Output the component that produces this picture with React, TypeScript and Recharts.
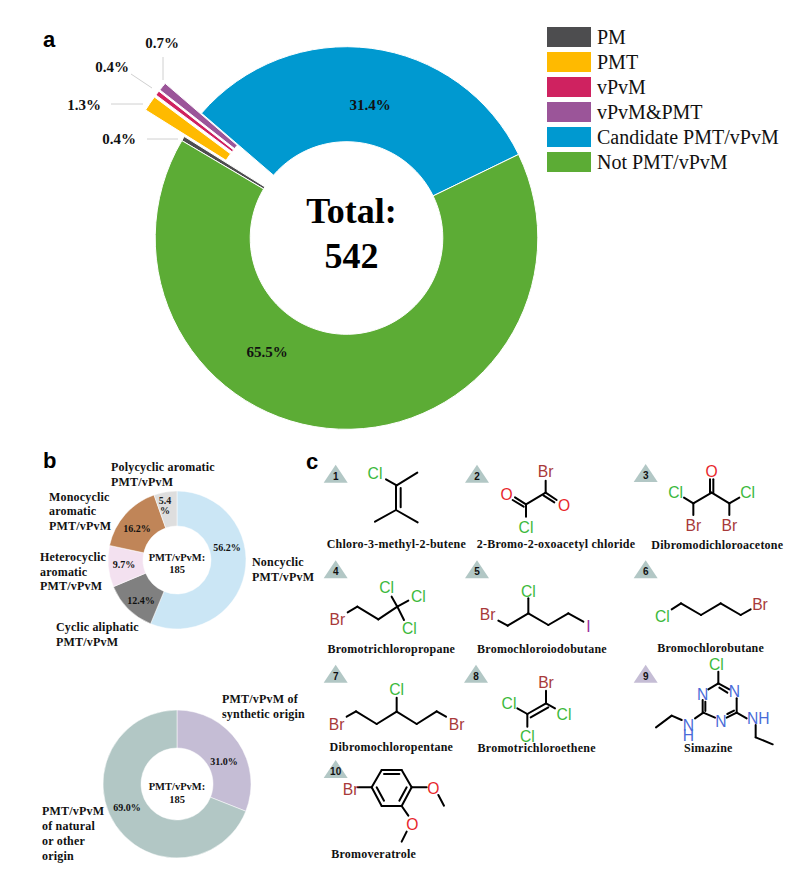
import React from 'react';
import { PieChart, Pie, Cell, Sector } from 'recharts';

const SERIF = '"Liberation Serif", serif';
const SANS = '"Liberation Sans", sans-serif';

// panel a
const mainNames = ['PM', 'PMT', 'vPvM', 'vPvM&PMT', 'Candidate PMT/vPvM', 'Not PMT/vPvM'];
const mainValues = [0.4, 1.3, 0.4, 0.7, 31.4, 65.5];
const mainColors = ['#4D4D4F', '#FFBA00', '#CF2260', '#9B5599', '#0099D0', '#5CAC35'];
const explodedNames = ['PMT', 'vPvM', 'vPvM&PMT'];

// panel b, structure classes
const classNames = ['Noncyclic', 'Cyclic aliphatic', 'Heterocyclic aromatic', 'Monocyclic aromatic', 'Polycyclic aromatic'];
const classValues = [56.2, 12.4, 9.7, 16.2, 5.4];
const classColors = ['#CBE6F5', '#808080', '#F3E1F0', '#C08558', '#DEDEDE'];

// panel b, origin
const originNames = ['Synthetic', 'Natural or other'];
const originValues = [31.0, 69.0];
const originColors = ['#C5BDD5', '#B2C7C5'];

const mainTable = mainNames.map((name, i) => ({ name, value: mainValues[i] }));
const classTable = classNames.map((name, i) => ({ name, value: classValues[i] }));
const originTable = originNames.map((name, i) => ({ name, value: originValues[i] }));

// where the percent labels sit, page coordinates
const mainLabelPos = [
  { x: 119, y: 139, line: [147, 139, 178, 139] },
  { x: 84, y: 105, line: [111, 104, 143, 104] },
  { x: 112, y: 67, line: [131, 74, 152, 88] },
  { x: 162, y: 43, line: [163, 57, 163, 80] },
  { x: 370, y: 105 },
  { x: 267, y: 352 },
];
const classLabelPos = [
  { x: 227, y: 547 },
  { x: 141, y: 600 },
  { x: 124, y: 564 },
  { x: 137, y: 528 },
  { x: 165, y: 501, wrap: true },
];
const originLabelPos = [
  { x: 224, y: 761 },
  { x: 127, y: 807 },
];

const pageLabels: [string, number, number][] = [
  ['Polycyclic aromatic', 111, 467],
  ['PMT/vPvM', 111, 482],
  ['Monocyclic', 49, 497],
  ['aromatic', 49, 511],
  ['PMT/vPvM', 49, 526],
  ['Heterocyclic', 40, 557],
  ['aromatic', 40, 572],
  ['PMT/vPvM', 40, 586],
  ['Cyclic aliphatic', 56, 627],
  ['PMT/vPvM', 56, 642],
  ['Noncyclic', 252, 562],
  ['PMT/vPvM', 252, 577],
  ['PMT/vPvM of', 222, 699],
  ['synthetic origin', 222, 714],
  ['PMT/vPvM', 42, 811],
  ['of natural', 42, 826],
  ['or other', 42, 841],
  ['origin', 42, 856],
];

const CL = '#3CB93C';
const BR = '#A83A3A';
const OX = '#E8272C';
const NI = '#4A6CD8';
const IO = '#9B2C9B';

type Mol = {
  origin: [number, number];
  badge: [string, number, number, string];
  name: [string, number, number];
  bonds: number[][];
  atoms: [string, number, number, string][];
};

// structure drawings, in units of one third of a pixel from the origin
const molecules: Mol[] = [
  {
    origin: [310, 450], badge: ['1', 77, 98, '#B2C7C5'], name: ['Chloro-3-methyl-2-butene', 259, 283],
    bonds: [[228, 88, 260, 106], [260, 106, 322, 68], [258, 106, 258, 180], [272, 114, 272, 172], [258, 180, 195, 215], [258, 180, 323, 217]],
    atoms: [['Cl', 195, 70, CL]],
  },
  {
    origin: [310, 450], badge: ['2', 501, 98, '#B2C7C5'], name: ['2-Bromo-2-oxoacetyl chloride', 738, 283],
    bonds: [[707, 92, 707, 128], [707, 128, 648, 163], [707, 128, 740, 150], [700, 136, 733, 157], [648, 163, 615, 142], [641, 170, 608, 150], [648, 163, 648, 200]],
    atoms: [['Br', 707, 65, BR], ['O', 590, 132, OX], ['O', 762, 165, OX], ['Cl', 648, 232, CL]],
  },
  {
    origin: [310, 450], badge: ['3', 1007, 96, '#B2C7C5'], name: ['Dibromodichloroacetone', 1222, 285],
    bonds: [[1200, 88, 1200, 128], [1210, 88, 1210, 128], [1205, 128, 1150, 160], [1205, 128, 1258, 160], [1150, 160, 1122, 143], [1258, 160, 1288, 143], [1150, 160, 1150, 195], [1258, 160, 1258, 195]],
    atoms: [['O', 1205, 65, OX], ['Cl', 1097, 128, CL], ['Cl', 1313, 128, CL], ['Br', 1150, 225, BR], ['Br', 1258, 225, BR]],
  },
  {
    origin: [310, 450], badge: ['4', 77, 385, '#B2C7C5'], name: ['Bromotrichloropropane', 244, 597],
    bonds: [[113, 487, 142, 470], [142, 470, 205, 508], [205, 508, 262, 470], [262, 470, 245, 440], [262, 470, 295, 452], [262, 470, 282, 510]],
    atoms: [['Br', 82, 507, BR], ['Cl', 230, 412, CL], ['Cl', 325, 438, CL], ['Cl', 298, 535, CL]],
  },
  {
    origin: [310, 450], badge: ['5', 501, 385, '#B2C7C5'], name: ['Bromochloroiodobutane', 696, 597],
    bonds: [[655, 445, 655, 490], [565, 512, 593, 527], [593, 527, 655, 490], [655, 490, 715, 525], [715, 525, 775, 490], [775, 490, 820, 515]],
    atoms: [['Cl', 655, 424, CL], ['Br', 533, 493, BR], ['I', 835, 530, IO]],
  },
  {
    origin: [310, 450], badge: ['6', 1007, 385, '#B2C7C5'], name: ['Bromochlorobutane', 1202, 595],
    bonds: [[1085, 478, 1113, 460], [1113, 460, 1173, 495], [1173, 495, 1232, 460], [1232, 460, 1292, 495], [1292, 495, 1322, 478]],
    atoms: [['Cl', 1057, 498, CL], ['Br', 1350, 463, BR]],
  },
  {
    origin: [310, 650], badge: ['7', 77, 98, '#B2C7C5'], name: ['Dibromochloropentane', 244, 292],
    bonds: [[260, 143, 260, 185], [110, 200, 138, 184], [138, 184, 200, 222], [200, 222, 260, 185], [260, 185, 320, 222], [320, 222, 380, 184], [380, 184, 408, 200]],
    atoms: [['Cl', 260, 117, CL], ['Br', 80, 222, BR], ['Br', 440, 222, BR]],
  },
  {
    origin: [310, 650], badge: ['8', 498, 98, '#B2C7C5'], name: ['Bromotrichloroethene', 680, 294],
    bonds: [[708, 122, 708, 160], [708, 160, 735, 175], [708, 160, 652, 192], [715, 172, 662, 202], [652, 192, 622, 175], [652, 192, 652, 230]],
    atoms: [['Br', 708, 97, BR], ['Cl', 762, 192, CL], ['Cl', 597, 160, CL], ['Cl', 652, 258, CL]],
  },
  {
    origin: [310, 650], badge: ['9', 1007, 98, '#C5BDD5'], name: ['Simazine', 1195, 294],
    bonds: [[1225, 65, 1225, 100], [1225, 100, 1258, 118], [1228, 113, 1252, 128], [1225, 100, 1195, 118], [1178, 150, 1178, 188], [1186, 155, 1186, 183], [1180, 188, 1215, 203], [1250, 203, 1280, 188], [1252, 192, 1272, 182], [1280, 188, 1280, 145], [1180, 188, 1155, 205], [1115, 210, 1085, 197], [1085, 197, 1038, 232], [1280, 188, 1310, 205], [1337, 225, 1337, 262], [1337, 262, 1388, 283]],
    atoms: [['Cl', 1219, 44, CL], ['N', 1273, 125, NI], ['N', 1178, 133, NI], ['N', 1233, 215, NI], ['N', 1135, 225, NI], ['H', 1135, 257, NI], ['NH', 1345, 205, NI]],
  },
  {
    origin: [310, 650], badge: ['10', 77, 384, '#B2C7C5'], name: ['Bromoveratrole', 191, 612],
    bonds: [[143, 412, 185, 412], [185, 412, 215, 360], [215, 360, 275, 360], [275, 360, 305, 412], [305, 412, 275, 468], [275, 468, 215, 468], [215, 468, 185, 412], [222, 372, 268, 372], [290, 412, 268, 452], [200, 412, 222, 452], [305, 412, 350, 412], [385, 435, 402, 467], [275, 468, 295, 497], [290, 545, 275, 575]],
    atoms: [['Br', 122, 417, BR], ['O', 370, 415, OX], ['O', 307, 523, OX]],
  },
];

const pctLabel = (positions: any[], size: number) => (props: any) => {
  const p = positions[props.index];
  const text = `${props.value.toFixed(1)}%`;
  return (
    <g>
      {p.line && <line x1={p.line[0]} y1={p.line[1]} x2={p.line[2]} y2={p.line[3]} stroke="#D0D0D0" strokeWidth={1} />}
      {p.wrap ? (
        <text textAnchor="middle" fontFamily={SERIF} fontWeight="bold" fontSize={size} fill="#222">
          <tspan x={p.x} y={p.y + 3}>{text.replace('%', '')}</tspan>
          <tspan x={p.x} y={p.y + 13}>%</tspan>
        </text>
      ) : (
        <text x={p.x} y={p.y} dy="0.35em" textAnchor="middle" fontFamily={SERIF} fontWeight="bold" fontSize={size} fill="#111">{text}</text>
      )}
    </g>
  );
};

// the flagged slices are pulled out of the ring along their own mid angle
const MainSlice = (props: any) => {
  const pulled = explodedNames.includes(props.name ?? props.payload?.name);
  const rad = (props.midAngle * Math.PI) / 180;
  const off = pulled ? 47 : 0;
  return <Sector {...props} cx={props.cx + off * Math.cos(rad)} cy={props.cy - off * Math.sin(rad)} />;
};

const Legend2 = () => (
  <div style={{ position: 'absolute', left: 547, top: 27 }}>
    {mainNames.map((name, i) => (
      <div key={name} style={{ display: 'flex', alignItems: 'center', height: 20, marginBottom: 5 }}>
        <div style={{ width: 44, height: 20, background: mainColors[i], marginRight: 6 }} />
        <span style={{ fontFamily: SERIF, fontSize: 20, color: '#111', whiteSpace: 'nowrap' }}>{name}</span>
      </div>
    ))}
  </div>
);

const Molecule = ({ m }: { m: Mol }) => {
  const [num, bx, by, bc] = m.badge;
  return (
    <g transform={`translate(${m.origin[0]},${m.origin[1]}) scale(${1 / 3})`}>
      <polygon points={`${bx - 36},${by} ${bx + 36},${by} ${bx},${by - 54}`} fill={bc} />
      <text x={bx} y={by - 9} textAnchor="middle" fontFamily={SANS} fontWeight="bold" fontSize={30} fill="#111">{num}</text>
      {m.bonds.map((b, i) => (
        <line key={i} x1={b[0]} y1={b[1]} x2={b[2]} y2={b[3]} stroke="#000" strokeWidth={6} strokeLinecap="round" />
      ))}
      {m.atoms.map((a, i) => (
        <text key={i} x={a[1]} y={a[2]} dy="0.36em" textAnchor="middle" fontFamily={SANS} fontSize={47} fill={a[3]}>{a[0]}</text>
      ))}
      <text x={m.name[1]} y={m.name[2]} dy="0.33em" textAnchor="middle" fontFamily={SERIF} fontWeight="bold" fontSize={36} letterSpacing={0.7} fill="#111">{m.name[0]}</text>
    </g>
  );
};

export default function App() {
  return (
    <div style={{ position: 'absolute', left: 0, top: 0, width: 797, height: 872, background: '#fff', overflow: 'hidden' }}>
      <div style={{ position: 'absolute', left: 0, top: 0 }}>
        <PieChart width={797} height={872} margin={{ top: 0, right: 0, bottom: 0, left: 0 }}>
          <Pie
            data={mainTable}
            dataKey="value"
            nameKey="name"
            cx={346.5}
            cy={238}
            innerRadius={96.3}
            outerRadius={191.3}
            startAngle={149.4}
            endAngle={-210.6}
            stroke="#fff"
            strokeWidth={1}
            shape={MainSlice}
            label={pctLabel(mainLabelPos, 15)}
            labelLine={false}
            isAnimationActive={false}
          >
            {mainTable.map((d, i) => <Cell key={d.name} fill={mainColors[i]} />)}
          </Pie>
          <Pie
            data={classTable}
            dataKey="value"
            nameKey="name"
            cx={177}
            cy={560}
            innerRadius={34}
            outerRadius={69}
            startAngle={90}
            endAngle={-270}
            stroke="#fff"
            strokeWidth={0.5}
            label={pctLabel(classLabelPos, 10)}
            labelLine={false}
            isAnimationActive={false}
          >
            {classTable.map((d, i) => <Cell key={d.name} fill={classColors[i]} />)}
          </Pie>
          <Pie
            data={originTable}
            dataKey="value"
            nameKey="name"
            cx={177}
            cy={784}
            innerRadius={36}
            outerRadius={74}
            startAngle={90}
            endAngle={-270}
            stroke="#fff"
            strokeWidth={0.5}
            label={pctLabel(originLabelPos, 10)}
            labelLine={false}
            isAnimationActive={false}
          >
            {originTable.map((d, i) => <Cell key={d.name} fill={originColors[i]} />)}
          </Pie>
        </PieChart>
      </div>
      <Legend2 />
      <svg width={797} height={872} style={{ position: 'absolute', left: 0, top: 0, pointerEvents: 'none' }}>
        <text x={351.5} y={223} textAnchor="middle" fontFamily={SERIF} fontWeight="bold" fontSize={36} fill="#000">Total:</text>
        <text x={351.5} y={268} textAnchor="middle" fontFamily={SERIF} fontWeight="bold" fontSize={36} fill="#000">542</text>
        <text x={43} y={47} fontFamily={SANS} fontWeight="bold" fontSize={22} fill="#000">a</text>
        <text x={43} y={468} fontFamily={SANS} fontWeight="bold" fontSize={22} fill="#000">b</text>
        <text x={306} y={469} fontFamily={SANS} fontWeight="bold" fontSize={22} fill="#000">c</text>
        <text x={177} y={557} dy="0.35em" textAnchor="middle" fontFamily={SERIF} fontWeight="bold" fontSize={10.5} fill="#111">PMT/vPvM:</text>
        <text x={177} y={569} dy="0.35em" textAnchor="middle" fontFamily={SERIF} fontWeight="bold" fontSize={10.5} fill="#111">185</text>
        <text x={177} y={786} dy="0.35em" textAnchor="middle" fontFamily={SERIF} fontWeight="bold" fontSize={10.5} fill="#111">PMT/vPvM:</text>
        <text x={177} y={799} dy="0.35em" textAnchor="middle" fontFamily={SERIF} fontWeight="bold" fontSize={10.5} fill="#111">185</text>
        {pageLabels.map(([t, x, y], i) => (
          <text key={i} x={x} y={y} dy="0.35em" fontFamily={SERIF} fontWeight="bold" fontSize={12} letterSpacing={0.2} fill="#111">{t}</text>
        ))}
        {molecules.map((m) => <Molecule key={m.badge[0]} m={m} />)}
      </svg>
    </div>
  );
}
